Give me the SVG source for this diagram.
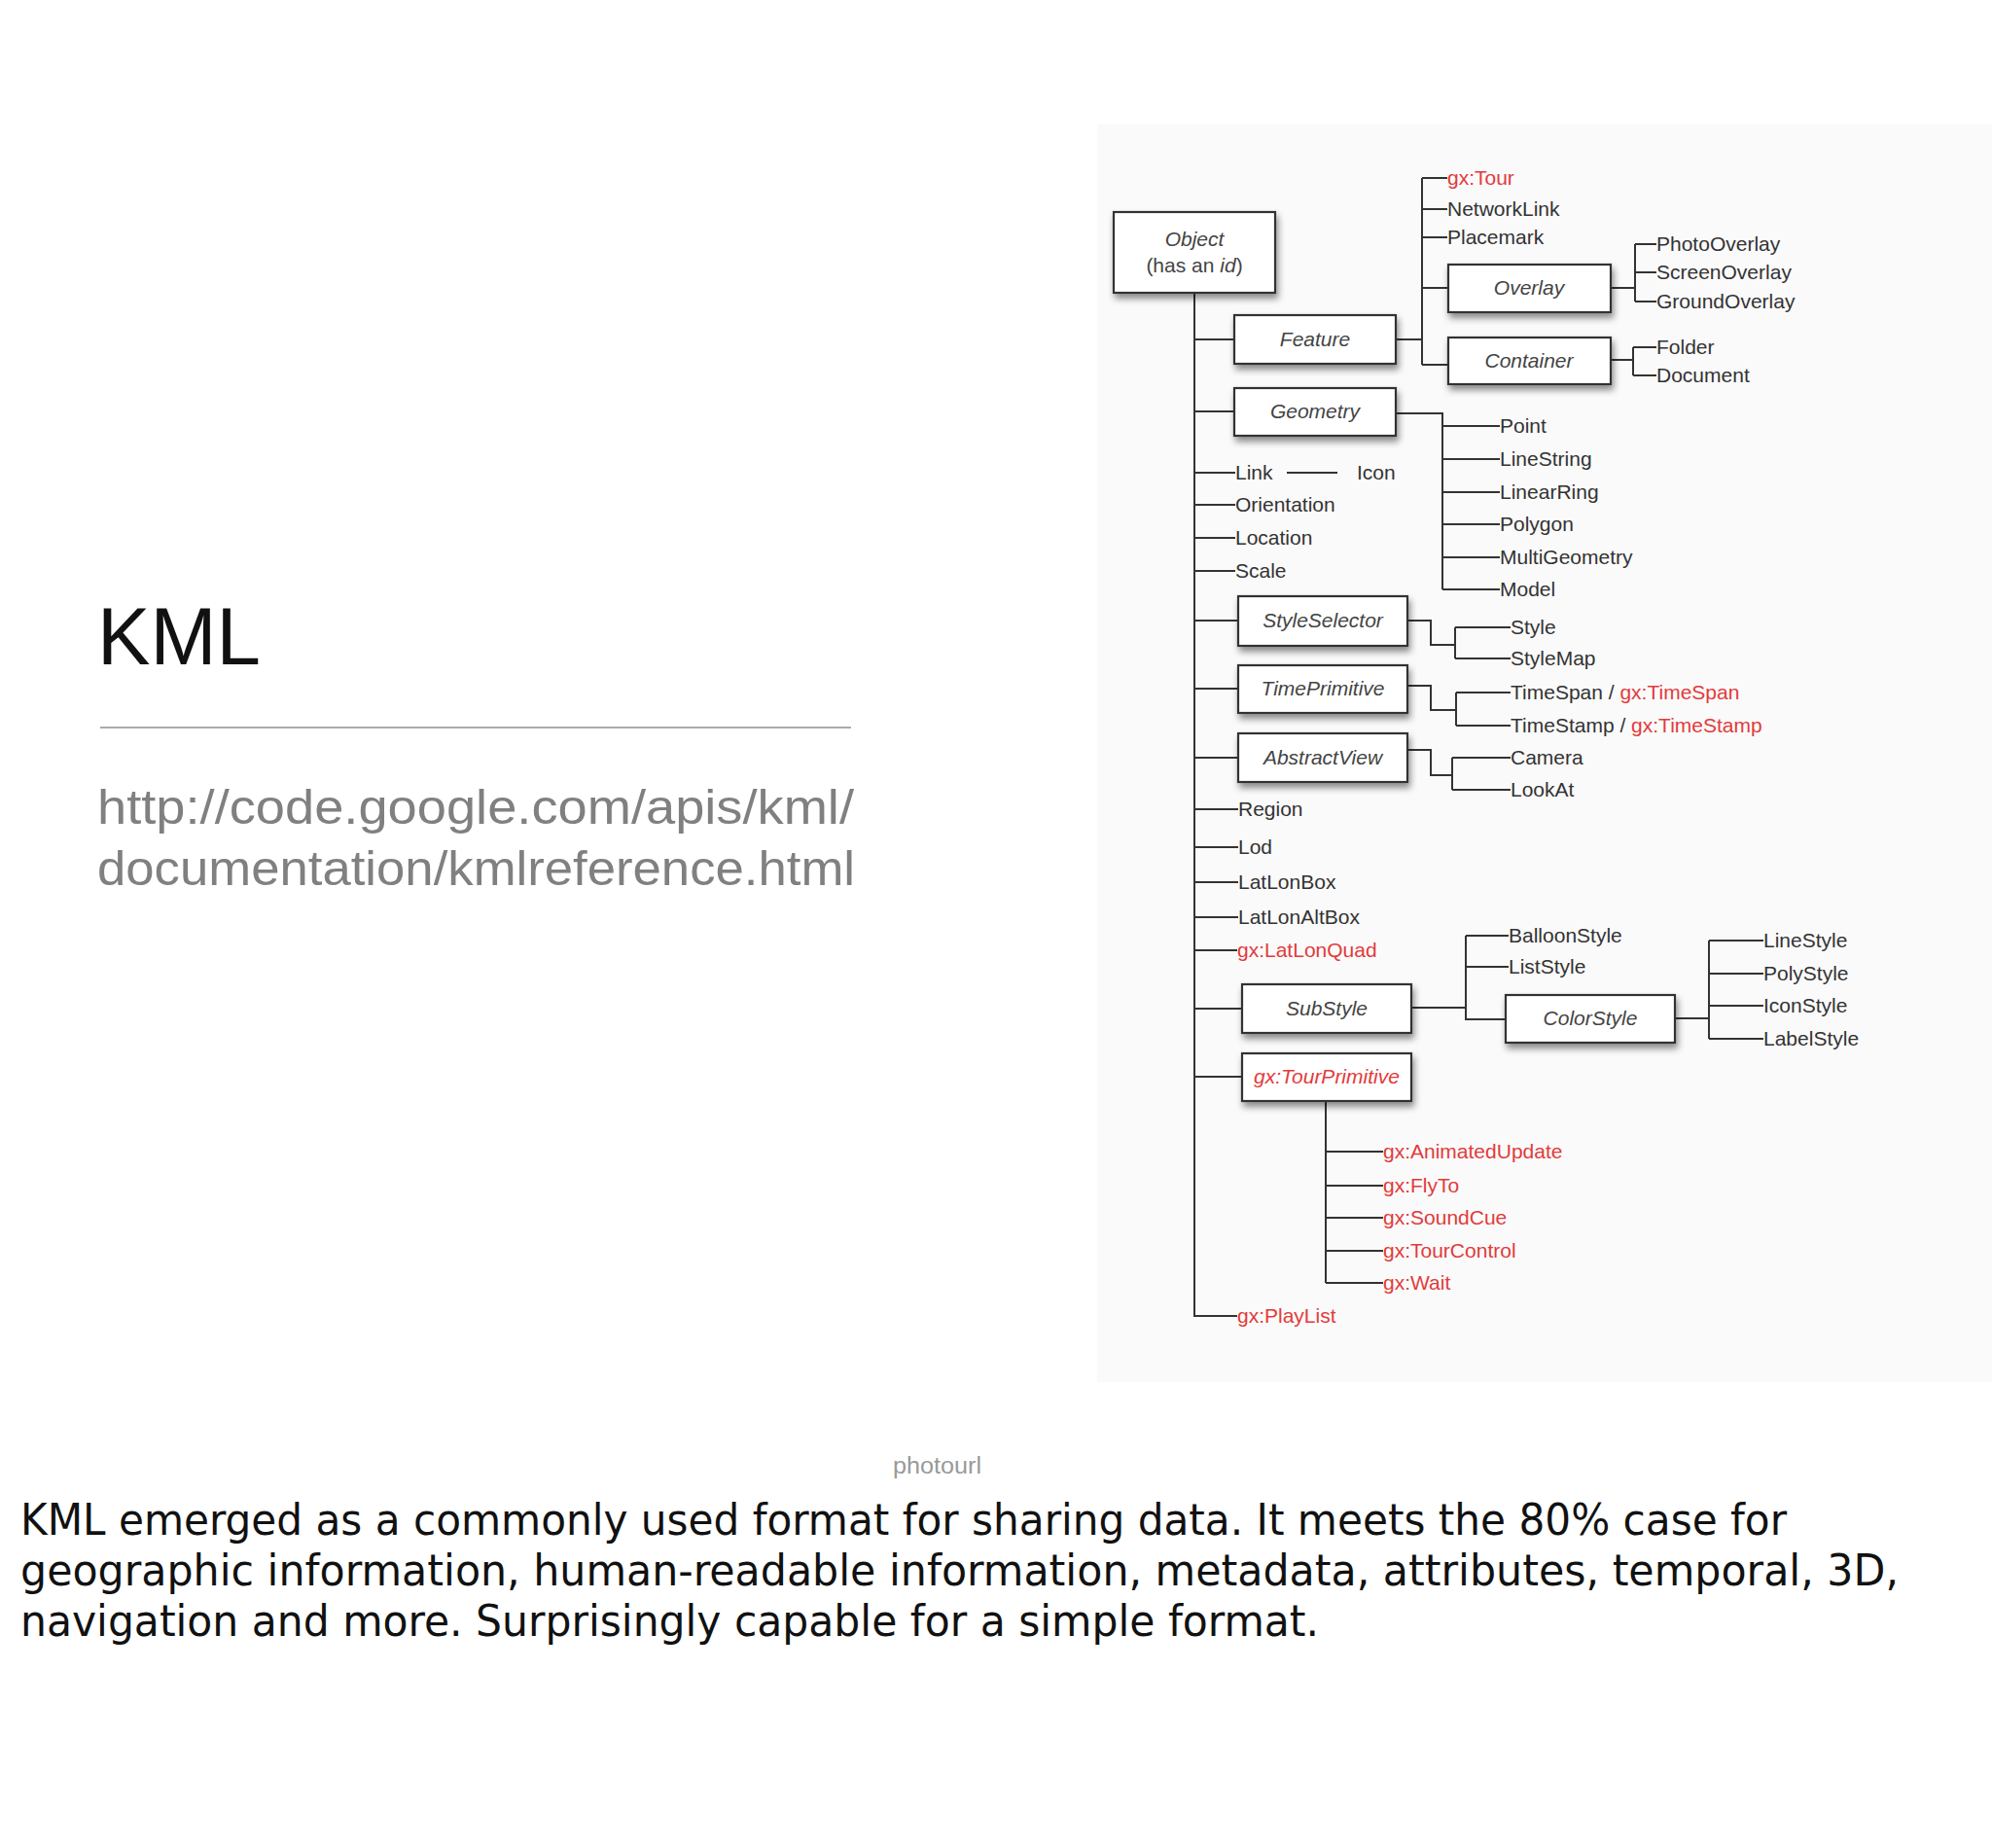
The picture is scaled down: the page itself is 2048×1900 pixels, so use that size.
<svg xmlns="http://www.w3.org/2000/svg" width="2048" height="1900" viewBox="0 0 2048 1900">
<defs>
<filter id="sh" x="-20%" y="-30%" width="140%" height="180%">
<feDropShadow dx="2" dy="5" stdDeviation="3.5" flood-color="#000" flood-opacity="0.45"/>
</filter>
<style>
.box{fill:#fff;stroke:#333;stroke-width:2.2}
.bt{font-family:"Liberation Sans",Arial,sans-serif;font-size:21px;font-style:italic;fill:#444;text-anchor:middle}
.lt{font-family:"Liberation Sans",Arial,sans-serif;font-size:21px;fill:#333}
.red{fill:#e23b3b}
.cn{fill:none;stroke:#333;stroke-width:2}
.up{font-style:normal}
</style>
</defs>
<rect width="2048" height="1900" fill="#fff"/>
<rect x="1128" y="128" width="920" height="1293" fill="#fafafa"/>

<g id="left">
<text x="100" y="683" font-family="Liberation Sans,Arial,sans-serif" font-size="84" fill="#111" textLength="168" lengthAdjust="spacingAndGlyphs">KML</text>
<line x1="103" y1="748" x2="875" y2="748" stroke="#aaa" stroke-width="2"/>
<text x="100" y="847" font-family="Liberation Sans,Arial,sans-serif" font-size="50" fill="#808080" textLength="778" lengthAdjust="spacingAndGlyphs">http://code.google.com/apis/kml/</text>
<text x="100" y="910" font-family="Liberation Sans,Arial,sans-serif" font-size="50" fill="#808080" textLength="779" lengthAdjust="spacingAndGlyphs">documentation/kmlreference.html</text>
<text x="918" y="1515" font-family="Liberation Sans,Arial,sans-serif" font-size="23" fill="#999" textLength="91" lengthAdjust="spacingAndGlyphs">photourl</text>
<g font-family="DejaVu Sans Condensed,DejaVu Sans,sans-serif" font-size="44" fill="#111">
<text x="21" y="1578" textLength="1816" lengthAdjust="spacingAndGlyphs">KML emerged as a commonly used format for sharing data. It meets the 80% case for</text>
<text x="21" y="1630" textLength="1931" lengthAdjust="spacingAndGlyphs">geographic information, human-readable information, metadata, attributes, temporal, 3D,</text>
<text x="21" y="1682" textLength="1335" lengthAdjust="spacingAndGlyphs">navigation and more. Surprisingly capable for a simple format.</text>
</g>
</g>

<g id="connectors" class="cn">
<path d="M1228 301V1353H1272"/>
<path d="M1228 349H1269M1228 423H1269M1228 486H1270M1228 519H1270M1228 553H1270M1228 587H1270M1228 638H1273M1228 708H1273M1228 779H1273M1228 832H1273M1228 871H1273M1228 907H1273M1228 943H1273M1228 977H1272M1228 1037H1277M1228 1107H1277"/>
<path d="M1435 349H1462M1462 183V375M1462 183H1488M1462 215H1488M1462 244H1488M1462 296H1489M1462 375H1489"/>
<path d="M1656 296H1681M1681 251V310M1681 251H1703M1681 280H1703M1681 310H1703"/>
<path d="M1656 370H1679M1679 357V386M1679 357H1703M1679 386H1703"/>
<path d="M1435 425H1483V606M1483 438H1542M1483 472H1542M1483 506H1542M1483 539H1542M1483 573H1542M1483 606H1542"/>
<path d="M1323 486H1375"/>
<path d="M1447 638H1471V663H1496M1496 645V677M1496 645H1553M1496 677H1553"/>
<path d="M1447 705H1471V730H1497M1497 712V746M1497 712H1553M1497 746H1553"/>
<path d="M1447 771H1471V797H1493M1493 779V812M1493 779H1553M1493 812H1553"/>
<path d="M1451 1036H1507M1507 962V1048H1548M1507 962H1551M1507 994H1551"/>
<path d="M1722 1047H1757M1757 967V1068M1757 967H1813M1757 1001H1813M1757 1034H1813M1757 1068H1813"/>
<path d="M1363 1132V1319M1363 1184H1422M1363 1219H1422M1363 1252H1422M1363 1286H1422M1363 1319H1422"/>
</g>

<g id="node-object"><rect class="box" filter="url(#sh)" x="1145" y="218" width="166" height="83"/>
<text class="bt" x="1228" y="253">Object</text>
<text class="bt up" x="1228" y="280">(has an <tspan style="font-style:italic">id</tspan>)</text></g>
<g id="node-feature"><rect class="box" filter="url(#sh)" x="1269" y="324" width="166" height="50"/><text class="bt" x="1352" y="356">Feature</text></g>
<g id="node-geometry"><rect class="box" filter="url(#sh)" x="1269" y="399" width="166" height="49"/><text class="bt" x="1352" y="430">Geometry</text></g>
<g id="node-overlay"><rect class="box" filter="url(#sh)" x="1489" y="272" width="167" height="49"/><text class="bt" x="1572" y="303">Overlay</text></g>
<g id="node-container"><rect class="box" filter="url(#sh)" x="1489" y="347" width="167" height="48"/><text class="bt" x="1572" y="378">Container</text></g>
<g id="node-styleselector"><rect class="box" filter="url(#sh)" x="1273" y="613" width="174" height="51"/><text class="bt" x="1360" y="645">StyleSelector</text></g>
<g id="node-timeprimitive"><rect class="box" filter="url(#sh)" x="1273" y="684" width="174" height="49"/><text class="bt" x="1360" y="715">TimePrimitive</text></g>
<g id="node-abstractview"><rect class="box" filter="url(#sh)" x="1273" y="754" width="174" height="50"/><text class="bt" x="1360" y="786">AbstractView</text></g>
<g id="node-substyle"><rect class="box" filter="url(#sh)" x="1277" y="1012" width="174" height="50"/><text class="bt" x="1364" y="1044">SubStyle</text></g>
<g id="node-colorstyle"><rect class="box" filter="url(#sh)" x="1548" y="1023" width="174" height="49"/><text class="bt" x="1635" y="1054">ColorStyle</text></g>
<g id="node-tourprimitive"><rect class="box" filter="url(#sh)" x="1277" y="1083" width="174" height="49"/><text class="bt red" x="1364" y="1114">gx:TourPrimitive</text></g>

<g id="leaves" class="lt">
<text id="n-gxtour" class="red" x="1488" y="190">gx:Tour</text>
<text id="n-networklink" x="1488" y="222">NetworkLink</text>
<text id="n-placemark" x="1488" y="251">Placemark</text>
<text id="n-photooverlay" x="1703" y="258">PhotoOverlay</text>
<text id="n-screenoverlay" x="1703" y="287">ScreenOverlay</text>
<text id="n-groundoverlay" x="1703" y="317">GroundOverlay</text>
<text id="n-folder" x="1703" y="364">Folder</text>
<text id="n-document" x="1703" y="393">Document</text>
<text id="n-point" x="1542" y="445">Point</text>
<text id="n-linestring" x="1542" y="479">LineString</text>
<text id="n-linearring" x="1542" y="513">LinearRing</text>
<text id="n-polygon" x="1542" y="546">Polygon</text>
<text id="n-multigeometry" x="1542" y="580">MultiGeometry</text>
<text id="n-model" x="1542" y="613">Model</text>
<text id="n-link" x="1270" y="493">Link</text>
<text id="n-icon" x="1395" y="493">Icon</text>
<text id="n-orientation" x="1270" y="526">Orientation</text>
<text id="n-location" x="1270" y="560">Location</text>
<text id="n-scale" x="1270" y="594">Scale</text>
<text id="n-style" x="1553" y="652">Style</text>
<text id="n-stylemap" x="1553" y="684">StyleMap</text>
<text id="n-timespan" x="1553" y="719">TimeSpan / <tspan class="red">gx:TimeSpan</tspan></text>
<text id="n-timestamp" x="1553" y="753">TimeStamp / <tspan class="red">gx:TimeStamp</tspan></text>
<text id="n-camera" x="1553" y="786">Camera</text>
<text id="n-lookat" x="1553" y="819">LookAt</text>
<text id="n-region" x="1273" y="839">Region</text>
<text id="n-lod" x="1273" y="878">Lod</text>
<text id="n-latlonbox" x="1273" y="914">LatLonBox</text>
<text id="n-latlonaltbox" x="1273" y="950">LatLonAltBox</text>
<text id="n-gxlatlonquad" class="red" x="1272" y="984">gx:LatLonQuad</text>
<text id="n-balloonstyle" x="1551" y="969">BalloonStyle</text>
<text id="n-liststyle" x="1551" y="1001">ListStyle</text>
<text id="n-linestyle" x="1813" y="974">LineStyle</text>
<text id="n-polystyle" x="1813" y="1008">PolyStyle</text>
<text id="n-iconstyle" x="1813" y="1041">IconStyle</text>
<text id="n-labelstyle" x="1813" y="1075">LabelStyle</text>
<text id="n-animatedupdate" class="red" x="1422" y="1191">gx:AnimatedUpdate</text>
<text id="n-flyto" class="red" x="1422" y="1226">gx:FlyTo</text>
<text id="n-soundcue" class="red" x="1422" y="1259">gx:SoundCue</text>
<text id="n-tourcontrol" class="red" x="1422" y="1293">gx:TourControl</text>
<text id="n-wait" class="red" x="1422" y="1326">gx:Wait</text>
<text id="n-playlist" class="red" x="1272" y="1360">gx:PlayList</text>
</g>
</svg>
